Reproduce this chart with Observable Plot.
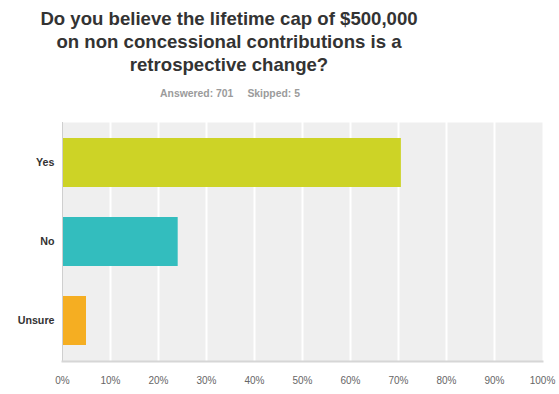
<!DOCTYPE html>
<html>
<head>
<meta charset="utf-8">
<script src="https://cdn.jsdelivr.net/npm/d3@7"></script>
<script src="https://cdn.jsdelivr.net/npm/@observablehq/plot@0.6"></script>
<style>
  html, body { margin: 0; padding: 0; background: #fff; }
  #wrap { position: relative; width: 559px; height: 394px; font-family: "Liberation Sans", Arial, sans-serif; }
  #title { position: absolute; left: 0; top: 7px; width: 458px; text-align: center; font-size: 18.6px; line-height: 23px; font-weight: bold; color: #333; }
  #sub { position: absolute; left: 0; top: 87px; width: 460px; text-align: center; font-size: 10.4px; line-height: 13px; font-weight: bold; color: #9b9b9b; }
  #sub span + span { margin-left: 14px; }
  #chart { position: absolute; left: 0; top: 110px; }
</style>
</head>
<body>
<div id="wrap">
  <div id="title">Do you believe the lifetime cap of $500,000<br>on non concessional contributions is a<br>retrospective change?</div>
  <div id="sub"><span>Answered: 701</span><span>Skipped: 5</span></div>
  <div id="chart"></div>
</div>
<script>
const answers = ["Yes", "No", "Unsure"];
const percents = [70.6, 24.1, 5.0];
const barColors = ["#cdd326", "#33bdbe", "#f5ae22"];
const xTicks = [0, 10, 20, 30, 40, 50, 60, 70, 80, 90, 100];

const rows = answers.map((a, i) => ({answer: a, pct: percents[i]}));

const chart = Plot.plot({
  width: 559,
  height: 284,
  marginTop: 12,
  marginBottom: 33,
  marginLeft: 62,
  marginRight: 17,
  style: {fontFamily: "'Liberation Sans', Arial, sans-serif", background: "transparent"},
  x: {domain: [0, 100], ticks: xTicks, tickFormat: d => d + "%", label: null},
  y: {domain: answers, paddingInner: 0.375, paddingOuter: 0.1875, label: null},
  color: {domain: answers, range: barColors},
  marks: [
    Plot.frame({fill: "#efefef", stroke: null}),
    Plot.ruleX(xTicks.slice(1, -1), {stroke: "#ffffff", strokeWidth: 2}),
    Plot.barX(rows, {x: "pct", y: "answer", fill: "answer"}),
    Plot.ruleX([0], {stroke: "#cfcfcf", strokeWidth: 1}),
    Plot.frame({anchor: "bottom", stroke: "#d6d6d6", strokeWidth: 2}),
    Plot.axisX({ticks: xTicks, tickSize: 0, tickPadding: 15, fontSize: 10, fill: "#666", label: null, tickFormat: d => d + "%"}),
    Plot.axisY({tickSize: 0, tickPadding: 8, fontSize: 10.7, fontWeight: "bold", fill: "#333", label: null})
  ]
});
document.getElementById("chart").appendChild(chart);
</script>
</body>
</html>
